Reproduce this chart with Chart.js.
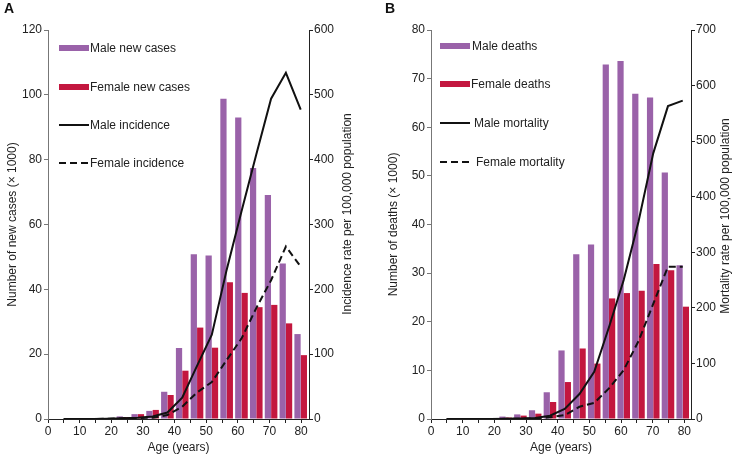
<!DOCTYPE html>
<html>
<head>
<meta charset="utf-8">
<script src="https://cdn.jsdelivr.net/npm/chart.js@4.4.1/dist/chart.umd.min.js"></script>
<style>
html, body { margin: 0; padding: 0; background: #fff; }
#wrap { position: relative; width: 740px; height: 455px; overflow: hidden; }
.panel { position: absolute; top: 0; width: 370px; height: 455px; }
.tag { position: absolute; top: 0; font: bold 14px "Liberation Sans", Arial, sans-serif; color: #111; }
</style>
</head>
<body>
<div id="wrap">
    <div class="panel" style="left:0"><canvas id="chart-a" width="370" height="455"></canvas></div>
    <div class="panel" style="left:370px"><canvas id="chart-b" width="370" height="455"></canvas></div>
    <div class="tag" style="left:4px">A</div>
    <div class="tag" style="left:385px">B</div>
</div>
<script>
// age groups (start of each 5-year band)
const ages = [0, 5, 10, 15, 20, 25, 30, 35, 40, 45, 50, 55, 60, 65, 70, 75, 80];

// panel A: new cases (x 1000) and incidence per 100,000
const maleCases = [0, 0, 0, 0.1, 0.8, 1.5, 2.5, 8.4, 21.9, 50.8, 50.4, 98.8, 93.0, 77.4, 69.1, 48.0, 26.2];
const femaleCases = [0, 0, 0, 0.1, 0.6, 1.5, 2.8, 7.4, 14.9, 28.2, 22.0, 42.2, 38.9, 34.5, 35.2, 29.5, 19.7];
const maleIncidence = [0, 0, 0, 0.5, 1, 2, 4, 10, 33, 82, 130, 230, 320, 408, 494, 534, 477];
const femaleIncidence = [0, 0, 0, 0.5, 1, 1.5, 2, 6, 19, 41, 57, 91, 124, 171, 214, 266, 235];

// panel B: deaths (x 1000) and mortality per 100,000
const maleDeaths = [0, 0, 0, 0.1, 0.5, 0.95, 1.8, 5.5, 14.1, 33.9, 35.9, 72.9, 73.6, 66.9, 66.1, 50.7, 31.6];
const femaleDeaths = [0, 0, 0, 0.05, 0.3, 0.7, 1.1, 3.5, 7.6, 14.5, 11.4, 24.8, 25.9, 26.4, 31.9, 30.6, 23.1];
const maleMortality = [0, 0, 0, 0, 0.5, 1, 2, 6, 18, 45, 85, 165, 250, 355, 478, 563, 573];
const femaleMortality = [0, 0, 0, 0, 0.3, 0.5, 1, 3, 7, 22, 29, 55, 88, 140, 207, 274, 274];

const xTicksA = [0, 82.5];
const xTicksB = [0, 82.1];

const PURPLE = '#9a62a9';
const CRIMSON = '#c3173f';
const FONT = '"Liberation Sans", Arial, sans-serif';

Chart.defaults.font.family = FONT;
Chart.defaults.font.size = 12;
Chart.defaults.color = '#222';

const points = function (values) {
    return values.map((v, i) => ({x: ages[i], y: v}));
};

// legend drawn inside the plot, one entry per row, plus the right axis title read bottom-up
const innerLegend = {
    id: 'innerLegend',
    afterDraw(chart, args, opts) {
        const ctx = chart.ctx;
        ctx.save();
        ctx.font = '12px ' + FONT;
        ctx.textBaseline = 'middle';
        chart.data.datasets.forEach((ds, i) => {
            const y = opts.rows[i];
            if (ds.type === 'bar') {
                ctx.fillStyle = ds.backgroundColor;
                ctx.fillRect(opts.x, y - 3, opts.swatch, 6);
            } else {
                ctx.strokeStyle = ds.borderColor;
                ctx.lineWidth = 2;
                ctx.setLineDash(ds.borderDash || []);
                ctx.beginPath();
                ctx.moveTo(opts.x, y);
                ctx.lineTo(opts.x + opts.swatch, y);
                ctx.stroke();
                ctx.setLineDash([]);
            }
            ctx.fillStyle = '#222';
            ctx.fillText(ds.label, opts.labelX[i], y + 1);
        });

        ctx.translate(opts.rightTitleX, opts.rightTitleY);
        ctx.rotate(-Math.PI / 2);
        ctx.textAlign = 'center';
        ctx.fillText(opts.rightTitle, 0, 0);
        ctx.restore();
    }
};

const makePanel = function (id, p) {
    const tickGrid = (color) => ({
        display: true,
        drawOnChartArea: false,
        drawTicks: true,
        tickLength: 4,
        color: color,
    });
    return new Chart(document.getElementById(id), {
        data: {
            datasets: [
                {type: 'bar', label: p.labels[0], data: points(p.bars[0]), backgroundColor: PURPLE,
                    xAxisID: 'xb', yAxisID: 'y', order: 2, categoryPercentage: 0.86, barPercentage: 0.98},
                {type: 'bar', label: p.labels[1], data: points(p.bars[1]), backgroundColor: CRIMSON,
                    xAxisID: 'xb', yAxisID: 'y', order: 2, categoryPercentage: 0.86, barPercentage: 0.98},
                {type: 'line', label: p.labels[2], data: points(p.lines[0]), borderColor: '#111',
                    borderWidth: 2, pointRadius: 0, tension: 0, xAxisID: 'xb', yAxisID: 'y2', order: 1},
                {type: 'line', label: p.labels[3], data: points(p.lines[1]), borderColor: '#111',
                    borderWidth: 2, borderDash: [7, 4], pointRadius: 0, tension: 0,
                    xAxisID: 'xb', yAxisID: 'y2', order: 1},
            ]
        },
        options: {
            responsive: false,
            animation: false,
            layout: {padding: {top: 30, left: 0, right: 0, bottom: 0}},
            scales: {
                x: {
                    type: 'linear', axis: 'x', position: 'bottom',
                    min: p.xRange[0], max: p.xRange[1],
                    ticks: {
                        stepSize: 5, autoSkip: false, includeBounds: false, maxRotation: 0, padding: 1,
                        callback: (v) => (v % 10 === 0 ? v : ''),
                    },
                    grid: tickGrid('#222'),
                    border: {display: true, color: '#222'},
                    title: {display: true, text: 'Age (years)', padding: {top: 0, bottom: 0}},
                    afterFit: (s) => { s.height = 36; },
                },
                // bars and lines sit on their own (unlabelled) age scale
                xb: {
                    type: 'linear', axis: 'x', position: 'bottom',
                    min: -5.3, max: 82.8, offset: false, bounds: 'data',
                    ticks: {display: false},
                    grid: {display: false},
                    border: {display: false},
                    afterFit: (s) => { s.height = 0; },
                },
                y: {
                    type: 'linear', axis: 'y', position: 'left',
                    min: 0, max: p.leftMax,
                    ticks: {stepSize: p.leftStep, padding: 2},
                    grid: tickGrid('#777'),
                    border: {display: true, color: '#777'},
                    title: {display: true, text: p.leftTitle, padding: {top: p.leftTitlePad, bottom: 0}},
                    afterFit: (s) => { s.width = p.leftWidth; },
                },
                y2: {
                    type: 'linear', axis: 'y', position: 'right',
                    min: 0, max: p.rightMax,
                    ticks: {stepSize: 100, padding: 1},
                    grid: tickGrid('#222'),
                    border: {display: true, color: '#222'},
                    afterFit: (s) => { s.width = p.rightWidth; },
                },
            },
            plugins: {
                legend: {display: false},
                tooltip: {enabled: false},
                innerLegend: p.legend,
            }
        },
        plugins: [innerLegend],
    });
};

makePanel('chart-a', {
    labels: ['Male new cases', 'Female new cases', 'Male incidence', 'Female incidence'],
    bars: [maleCases, femaleCases],
    lines: [maleIncidence, femaleIncidence],
    xRange: xTicksA,
    leftMax: 120, leftStep: 20, rightMax: 600,
    leftTitle: 'Number of new cases (× 1000)',
    leftWidth: 48, rightWidth: 61,
    leftTitlePad: 5,
    legend: {x: 59, swatch: 30, rows: [48, 87, 125, 163], labelX: [90, 90, 90, 90],
        rightTitle: 'Incidence rate per 100,000 population', rightTitleX: 348, rightTitleY: 214},
});

makePanel('chart-b', {
    labels: ['Male deaths', 'Female deaths', 'Male mortality', 'Female mortality'],
    bars: [maleDeaths, femaleDeaths],
    lines: [maleMortality, femaleMortality],
    xRange: xTicksB,
    leftMax: 80, leftStep: 10, rightMax: 700,
    leftTitle: 'Number of deaths (× 1000)',
    leftWidth: 61, rightWidth: 49,
    leftTitlePad: 16,
    legend: {x: 70, swatch: 30, rows: [46, 84, 123, 162], labelX: [102, 101, 104, 106],
        rightTitle: 'Mortality rate per 100,000 population', rightTitleX: 356, rightTitleY: 216},
});
</script>
</body>
</html>
